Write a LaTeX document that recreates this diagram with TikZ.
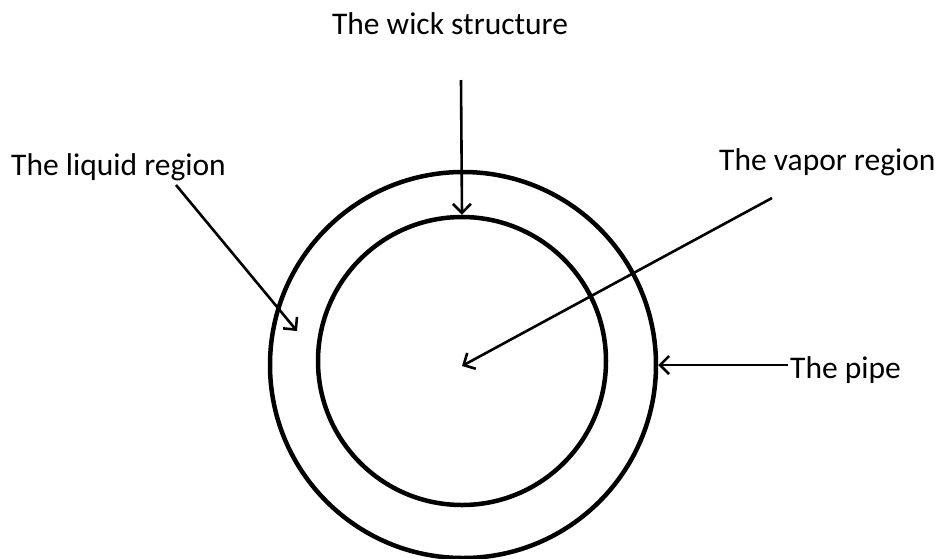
\documentclass[tikz,border=0pt]{standalone}
\usepackage{fontspec}
\setmainfont{Carlito}
\usetikzlibrary{arrows.meta}
\tikzset{
  wall/.style={draw=black,line width=4.5pt},
  arr/.style={-{Straight Barb[length=9pt,width=18pt,line width=2.6pt]},line width=2.6pt},
  lbl/.style={font=\fontsize{31.5}{36}\selectfont,inner sep=0pt},
}
\begin{document}
\begin{tikzpicture}[x=1pt,y=-1pt]
  \useasboundingbox (0,0) rectangle (943,558);
  % pipe and wick
  \node[wall,circle,minimum size=386pt,inner sep=0pt] (pipe) at (463,365) {};
  \node[wall,circle,minimum size=288pt,inner sep=0pt] (wick) at (462,361) {};
  \coordinate (core) at (462,366);
  \coordinate (liq) at (297,331);
  % labels
  \node[lbl] (twick) at (450,24) {The wick structure};
  \node[lbl,anchor=west] (tliq) at (11,167) {The liquid region};
  \node[lbl,anchor=west] (tvap) at (719,162) {The vapor region};
  \node[lbl,anchor=west] (tpipe) at (790,370) {The pipe};
  % arrow tails
  \coordinate (s1) at (461,80);
  \coordinate (s2) at (176,185);
  \coordinate (s3) at (772,198);
  \coordinate (s4) at (788,365);
  % arrows
  \draw[arr] (s1) -- (wick.north);
  \draw[arr] (s2) -- (liq);
  \draw[arr] (s3) -- (core);
  \draw[arr] (s4) -- (pipe.east);
\end{tikzpicture}
\end{document}
